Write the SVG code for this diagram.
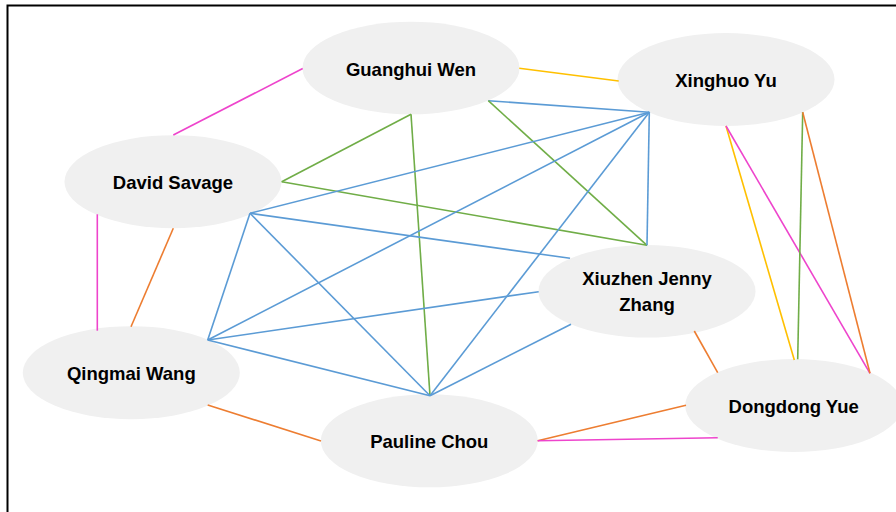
<svg xmlns="http://www.w3.org/2000/svg" width="896" height="512" viewBox="0 0 896 512">
  <style>
    .node ellipse { fill: #f0f0f0; }
    .node text { font-family: "Liberation Sans", Arial, sans-serif; font-weight: bold; font-size: 18.5px; fill: #000; text-anchor: middle; }
    .edges line { stroke-width: 1.6; fill: none; }
    .blue { stroke: #5b9bd5; }
    .green { stroke: #70ad47; }
    .orange { stroke: #ed7d31; }
    .yellow { stroke: #ffc000; }
    .pink { stroke: #ee44cc; }
  </style>
  <rect width="896" height="512" fill="#ffffff"/>
  <!-- frame -->
  <path d="M7.5 512 V5.5 H896" fill="none" stroke="#000" stroke-width="2"/>

  <!-- nodes -->
  <g id="guanghui-wen" class="node">
    <ellipse cx="411" cy="68" rx="108.5" ry="46.3"/>
    <text x="411" y="76">Guanghui Wen</text>
  </g>
  <g id="xinghuo-yu" class="node">
    <ellipse cx="726" cy="79.5" rx="108.5" ry="46.5"/>
    <text x="726" y="86.5">Xinghuo Yu</text>
  </g>
  <g id="david-savage" class="node">
    <ellipse cx="173" cy="181.7" rx="108.5" ry="46.5"/>
    <text x="173" y="188.5">David Savage</text>
  </g>
  <g id="xiuzhen-jenny-zhang" class="node">
    <ellipse cx="647" cy="291.3" rx="108.5" ry="46.3"/>
    <text x="647" y="285">Xiuzhen Jenny</text>
    <text x="647" y="311">Zhang</text>
  </g>
  <g id="qingmai-wang" class="node">
    <ellipse cx="131.3" cy="372.7" rx="108.5" ry="46.5"/>
    <text x="131.3" y="379.5">Qingmai Wang</text>
  </g>
  <g id="pauline-chou" class="node">
    <ellipse cx="429.3" cy="440.8" rx="108.5" ry="46.5"/>
    <text x="429.3" y="447.7">Pauline Chou</text>
  </g>
  <g id="dongdong-yue" class="node">
    <ellipse cx="793.7" cy="405.5" rx="108.5" ry="46.5"/>
    <text x="793.7" y="412.5">Dongdong Yue</text>
  </g>

  <!-- connectors -->
  <g id="connectors" class="edges">
    <line class="pink" x1="302.7" y1="68.5" x2="173.3" y2="135"/>
    <line class="yellow" x1="519.3" y1="68.3" x2="618.7" y2="81"/>
    <line class="blue" x1="488.3" y1="100.7" x2="649.3" y2="112.3"/>
    <line class="green" x1="488.3" y1="100.7" x2="647" y2="245.3"/>
    <line class="green" x1="411" y1="114.3" x2="281.7" y2="181.7"/>
    <line class="green" x1="411" y1="114.3" x2="430" y2="395.7"/>
    <line class="green" x1="281.7" y1="181.7" x2="647" y2="245.3"/>

    <line class="blue" x1="250" y1="213.3" x2="649.3" y2="112.3"/>
    <line class="blue" x1="250" y1="213.3" x2="570" y2="258.3"/>
    <line class="blue" x1="250" y1="213.3" x2="207.7" y2="340"/>
    <line class="blue" x1="250" y1="213.3" x2="430" y2="395.7"/>
    <line class="blue" x1="207.7" y1="340" x2="649.3" y2="112.3"/>
    <line class="blue" x1="207.7" y1="340" x2="538.7" y2="291.7"/>
    <line class="blue" x1="207.7" y1="340" x2="430" y2="395.7"/>
    <line class="blue" x1="430" y1="395.7" x2="649.3" y2="112.3"/>
    <line class="blue" x1="430" y1="395.7" x2="571" y2="324.3"/>
    <line class="blue" x1="649.3" y1="112.3" x2="647" y2="245.3"/>

    <line class="orange" x1="173.3" y1="228.3" x2="131" y2="326.7"/>
    <line class="pink" x1="97.3" y1="214.3" x2="97.3" y2="330.7"/>
    <line class="orange" x1="207.7" y1="405" x2="321" y2="441"/>
    <line class="orange" x1="537.7" y1="440.7" x2="686" y2="405.3"/>
    <line class="pink" x1="537.7" y1="440.7" x2="717.7" y2="437.7"/>
    <line class="orange" x1="694.3" y1="331" x2="717.7" y2="372.7"/>

    <line class="yellow" x1="726" y1="126" x2="794.3" y2="360"/>
    <line class="pink" x1="726" y1="126" x2="870" y2="373.3"/>
    <line class="green" x1="802.7" y1="112.3" x2="797.7" y2="359.3"/>
    <line class="orange" x1="802.7" y1="112.3" x2="870" y2="373.3"/>
  </g>
</svg>
